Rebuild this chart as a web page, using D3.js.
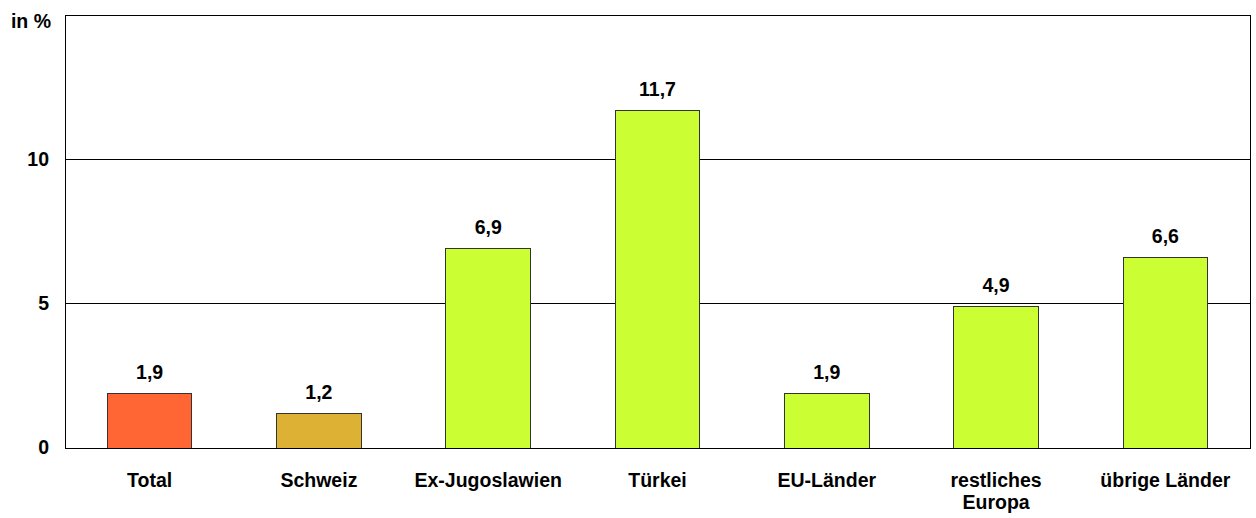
<!DOCTYPE html>
<html><head><meta charset="utf-8">
<script src="https://cdn.jsdelivr.net/npm/d3@7"></script>
<style>body{margin:0;background:#fff;} text{font-family:"Liberation Sans",Arial,sans-serif;font-weight:bold;}</style>
</head><body><svg id="c" width="1256" height="518"></svg>
<script>
const categories = [["Total"],["Schweiz"],["Ex-Jugoslawien"],["Türkei"],["EU-Länder"],["restliches","Europa"],["übrige Länder"]];
const values = [1.9, 1.2, 6.9, 11.7, 1.9, 4.9, 6.6];
const colors = ["#FF6633","#DDB133","#CCFF33","#CCFF33","#CCFF33","#CCFF33","#CCFF33"];
const yTicks = [0, 5, 10];
const yLabel = "in %";

const FS = 19.5;
const svg = d3.select("#c");
const m = {l:65, r:1250, t:15, b:448};
const x = d3.scaleBand().domain(d3.range(values.length)).range([m.l, m.r]).paddingInner(0.5).paddingOuter(0.25);
const y = d3.scaleLinear().domain([0, 15]).range([m.b, m.t]);

// gridlines
svg.append("g").selectAll("line").data(yTicks.filter(d=>d>0)).join("line")
  .attr("x1", m.l).attr("x2", m.r).attr("y1", d=>y(d)).attr("y2", d=>y(d))
  .attr("stroke", "#000").attr("stroke-width", 1).attr("shape-rendering","crispEdges");

// bars
svg.append("g").selectAll("rect").data(values).join("rect")
  .attr("x", (d,i)=>x(i)).attr("width", x.bandwidth())
  .attr("y", d=>y(d)).attr("height", d=>y(0)-y(d))
  .attr("fill", (d,i)=>colors[i]).attr("stroke", "#333").attr("stroke-width", 1)
  .attr("shape-rendering","crispEdges");

// frame
svg.append("rect").attr("x", m.l).attr("y", m.t).attr("width", m.r-m.l).attr("height", m.b-m.t)
  .attr("fill","none").attr("stroke","#000").attr("stroke-width",1).attr("shape-rendering","crispEdges");

// value labels
svg.append("g").selectAll("text").data(values).join("text")
  .attr("x", (d,i)=>x(i)+x.bandwidth()/2).attr("y", d=>y(d)-14.5)
  .attr("text-anchor","middle").style("font-size", FS+"px").attr("fill","#000")
  .text(d=>d.toFixed(1).replace(".", ","));

// y axis labels
const yAxis = d3.axisLeft(y).tickValues(yTicks).tickSize(0).tickPadding(16);
const ga = svg.append("g").attr("transform", `translate(${m.l},0)`).call(yAxis);
ga.select(".domain").remove();
ga.selectAll("text").attr("fill","#000").attr("dy","0.3em")
  .style("font-size", FS+"px").style("font-family","Liberation Sans, Arial, sans-serif").style("font-weight","bold");

svg.append("text").attr("x", 51).attr("y", 28).attr("text-anchor","end").style("font-size", FS+"px").text(yLabel);

// category labels
const cg = svg.append("g").selectAll("text").data(categories).join("text")
  .attr("x", (d,i)=>x(i)+x.bandwidth()/2).attr("y", 487)
  .attr("text-anchor","middle").style("font-size", FS+"px").attr("fill","#000");
cg.selectAll("tspan").data(d=>d).join("tspan")
  .attr("x", function(){return d3.select(this.parentNode).attr("x");})
  .attr("dy", (d,i)=>i===0?0:22).text(d=>d);
</script></body></html>
